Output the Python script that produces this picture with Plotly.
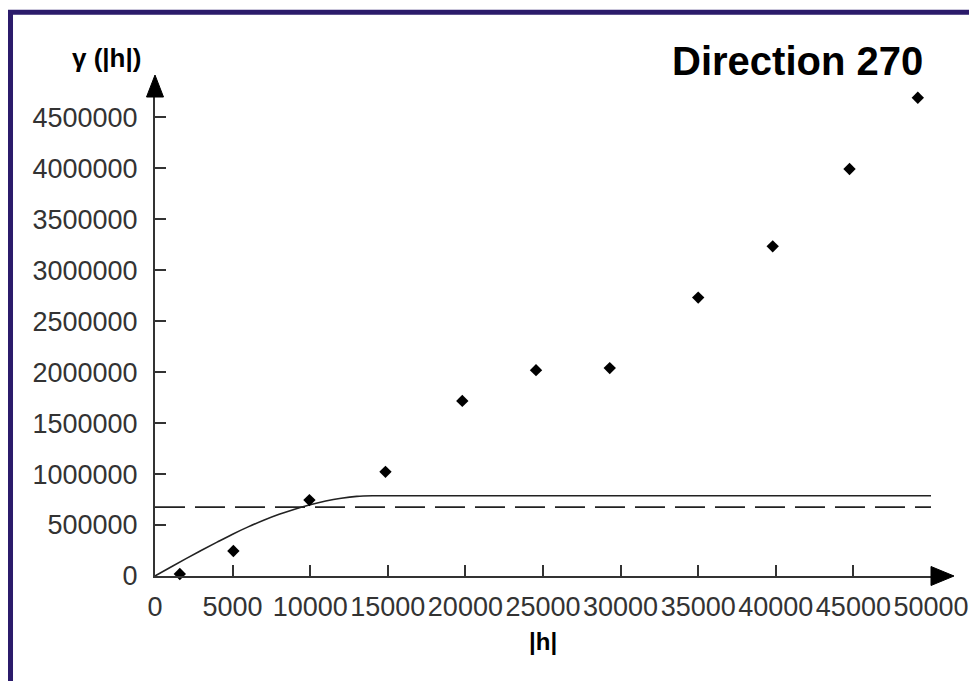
import plotly.graph_objects as go

# experimental variogram, direction 270
lag = [1600, 5050, 9950, 14850, 19800, 24550, 29300, 35000, 39800, 44750, 49150]
gamma = [20000, 245000, 745000, 1022000, 1718000, 2020000, 2040000, 2732000, 3235000, 3993000, 4693000]

# fitted model curve
model_h = [0, 1000, 2000, 3000, 4000, 5000, 6000, 7000, 8000, 9000, 10000, 11000, 12000, 13000, 14000, 50000]
model_g = [0, 86000, 170000, 252000, 332000, 410000, 482000, 547000, 605000, 656000, 700000, 736000, 763000,
           781000, 787000, 787000]

# sample variance (dashed)
sill_h = [0, 50000]
sill_g = [676000, 676000]

x_ticks = [0, 5000, 10000, 15000, 20000, 25000, 30000, 35000, 40000, 45000, 50000]
y_ticks = [0, 500000, 1000000, 1500000, 2000000, 2500000, 3000000, 3500000, 4000000, 4500000]

axis_col = '#333333'
font_name = 'Liberation Sans, Arial, sans-serif'

fig = go.Figure()

fig.add_trace(go.Scatter(x=sill_h, y=sill_g, mode='lines',
                         line=dict(color='#222222', width=1.6, dash='30px,10px'),
                         showlegend=False, hoverinfo='skip'))
fig.add_trace(go.Scatter(x=model_h, y=model_g, mode='lines', line_shape='spline',
                         line=dict(color='#222222', width=1.6),
                         showlegend=False, hoverinfo='skip'))
fig.add_trace(go.Scatter(x=lag, y=gamma, mode='markers', cliponaxis=False,
                         marker=dict(symbol='diamond', size=9.5, color='black'),
                         showlegend=False))

fig.update_xaxes(range=[0, 50000], tickvals=x_ticks, ticktext=[str(v) for v in x_ticks],
                 showline=True, linecolor=axis_col, linewidth=2, ticks='inside', ticklen=11,
                 tickwidth=1.5, tickcolor=axis_col, showgrid=False, zeroline=False,
                 tickfont=dict(family=font_name, size=27, color=axis_col), ticklabelstandoff=6)
fig.update_yaxes(range=[0, 4700000], tickvals=y_ticks, ticktext=[str(v) for v in y_ticks],
                 showline=True, linecolor=axis_col, linewidth=2, ticks='inside', ticklen=11,
                 tickwidth=1.5, tickcolor=axis_col, showgrid=False, zeroline=False,
                 tickfont=dict(family=font_name, size=27, color=axis_col), ticklabelstandoff=10)

# axis arrow heads
fig.add_shape(type='path', xref='paper', yref='paper', xsizemode='pixel', ysizemode='pixel',
              xanchor=1, yanchor=0, path='M0,-9.5 L23,0 L0,9.5 Z',
              fillcolor='black', line=dict(color='black', width=1))
fig.add_shape(type='path', xref='paper', yref='paper', xsizemode='pixel', ysizemode='pixel',
              xanchor=0, yanchor=1, path='M-8.5,0 L0,22 L8.5,0 Z',
              fillcolor='black', line=dict(color='black', width=1))

# frame
fig.add_shape(type='rect', xref='paper', yref='paper', x0=-0.1862, y0=-0.6, x1=1.3, y1=1.177,
              line=dict(color='#2b1b6b', width=5), layer='below')

fig.add_annotation(text='<b>Direction 270</b>', xref='paper', yref='paper', x=1, y=1,
                   xanchor='right', yanchor='middle', xshift=-6, yshift=36, showarrow=False,
                   font=dict(family=font_name, size=40, color='black'))
fig.add_annotation(text='<b>γ (|h|)</b>', xref='paper', yref='paper', x=0, y=1,
                   xanchor='right', yanchor='middle', xshift=-12, yshift=39, showarrow=False,
                   font=dict(family=font_name, size=26, color='black'))
fig.add_annotation(text='<b>|h|</b>', xref='x', yref='paper', x=25000, y=0,
                   xanchor='center', yanchor='top', yshift=-50, showarrow=False,
                   font=dict(family=font_name, size=24, color='black'))

fig.update_layout(width=969, height=681, margin=dict(l=155, r=38, t=97, b=105),
                  plot_bgcolor='white', paper_bgcolor='white', showlegend=False)

fig.write_html("out.html", config={'displayModeBar': False},
               post_script="document.body.style.margin='0';")
